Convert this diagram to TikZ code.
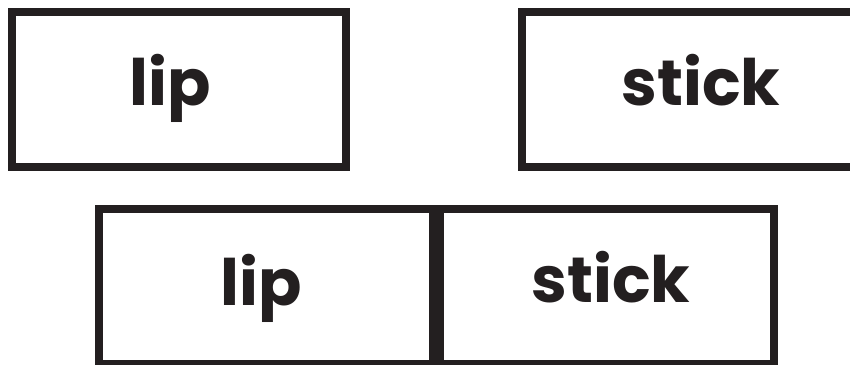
\documentclass[tikz,border=0pt]{standalone}
\usepackage{fontspec}
\setmainfont{Poppins}[BoldFont={Poppins Bold}]
\usepackage{xcolor}
\definecolor{ink}{HTML}{231F20}
\tikzset{
  wordbox/.style={draw=ink, line width=8pt, rectangle, inner sep=0pt,
    minimum width=334pt, minimum height=155pt},
  word/.style={anchor=base, inner sep=0pt, text=ink, font=\fontsize{64}{64}\selectfont\bfseries}
}

\begin{document}
\begin{tikzpicture}[x=1pt, y=-1pt]
		\clip (0,0) rectangle (850,364);
		\node[wordbox] (boxA) at (179,89.5) {};
		\node[wordbox] (boxB) at (689,89.5) {};
		\node[wordbox] (boxC) at (266,286) {};
		\node[wordbox] (boxD) at (607,286) {};
		\node[word] (lipA) at (170.5,105) {lip};
		\node[word] (stickB) at (701,105) {stick};
		\node[word] (lipC) at (261.5,305) {lip};
		\node[word] (stickD) at (611,302) {stick};
	\end{tikzpicture}
\end{document}
